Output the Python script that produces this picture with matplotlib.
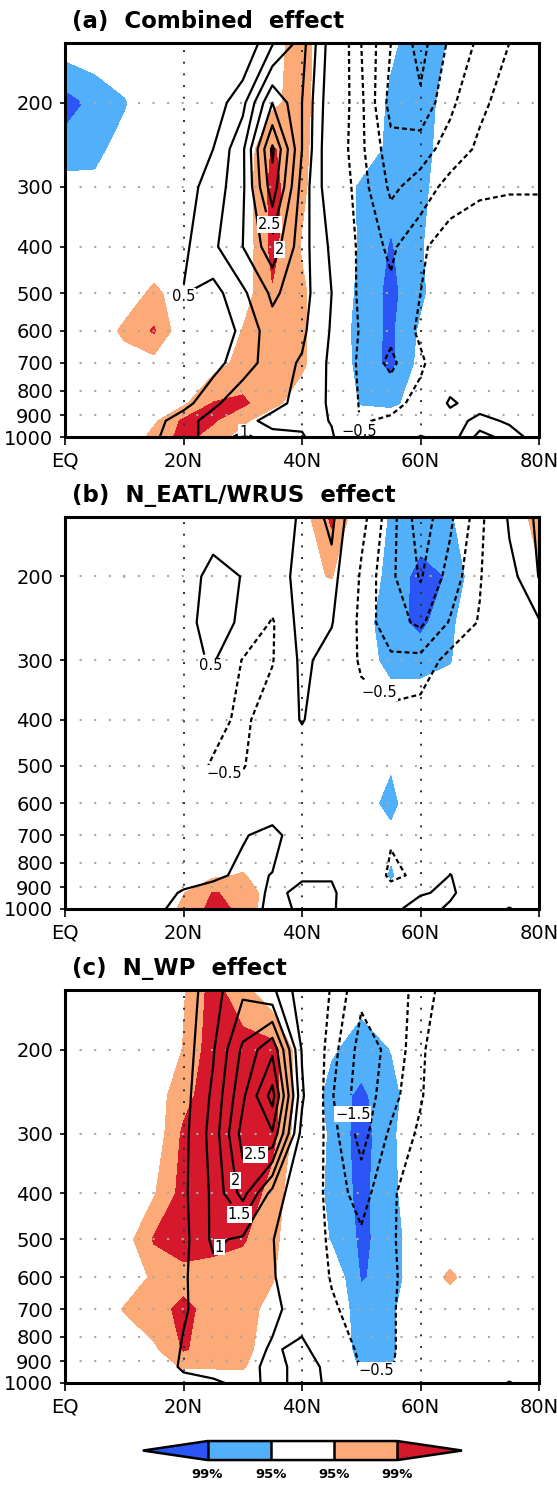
import numpy as np
import matplotlib
matplotlib.use("Agg")
import matplotlib.pyplot as plt
from matplotlib.colors import ListedColormap, BoundaryNorm
from matplotlib.ticker import NullLocator
import matplotlib.cm as cm

# ---------------- data ----------------
lat = [0, 5, 10, 15, 20, 25, 30, 35, 40, 45, 50, 55, 60, 65, 70, 75, 80]
lev = [150, 200, 250, 300, 400, 500, 600, 700, 850, 925, 1000]

# (a) Combined effect : anomaly (contours)
anom_a = [
    [0, 0, 0, 0, 0, 0, 0.0, 0.95, 1.7, 0.2, -1.0, -2.0, -2.7, -1.9, -1.4, -1.0, -0.6],
    [0, 0, 0, 0, 0, 0.2, 0.85, 2.5, 1.5, 0.1, -0.9, -2.2, -2.4, -1.6, -1.1, -0.8, -0.6],
    [0, 0, 0, 0, 0.1, 0.5, 1.4, 3.6, 1.5, 0.0, -0.9, -1.8, -1.7, -1.3, -0.9, -0.7, -0.7],
    [0, 0, 0, 0, 0.3, 0.7, 1.4, 3.3, 1.3, 0.1, -0.8, -1.6, -1.3, -0.8, -0.6, -0.55, -0.55],
    [0, 0, 0, 0.1, 0.4, 0.9, 1.5, 2.3, 1.2, 0.4, -0.7, -1.1, -0.6, -0.2, -0.1, -0.1, -0.1],
    [0, 0, 0, 0.2, 0.52, 0.3, 0.9, 1.6, 1.2, 0.5, -0.7, -0.9, -0.5, -0.1, 0, 0, 0],
    [0, 0, 0.1, 0.2, 0.3, 0.2, 0.6, 1.3, 1.1, 0.45, -0.6, -0.9, -0.4, 0, 0, 0, 0],
    [0, 0, 0.1, 0.2, 0.3, 0.3, 0.8, 1.2, 0.95, 0.4, -0.7, -1.1, -0.6, 0, 0.1, 0, 0],
    [0, 0, 0, 0.2, 0.3, 0.9, 1.3, 1.1, 0.9, 0.4, -0.6, -0.7, -0.3, 0.6, 0.2, 0.1, 0],
    [0, 0, 0, 0.3, 0.8, 1.2, 1.1, 0.9, 0.9, 0.45, -0.55, -0.4, -0.1, 0.2, 0.7, 0.4, 0],
    [0, 0, 0, 0.4, 0.9, 1.1, 0.95, 1.1, 1.05, 0.6, -0.6, -0.2, 0.55, 0.2, 1.2, 0.8, 0.2],
]
# (a) significance (sign = sign of anomaly; |s|>1 -> 95%, |s|>2 -> 99%)
sig_a = [
    [-0.4, -0.3, 0, 0, 0, 0, 0, 0.6, 1.5, 0, 0, -0.8, -1.5, -0.9, 0, 0, 0],
    [-2.5, -1.7, -1.1, 0, 0, 0, 0, 0.8, 1.4, 0, 0, -1.2, -1.4, -0.6, 0, 0, 0],
    [-1.5, -1.3, -0.5, 0, 0, 0, 0.2, 2.1, 1.3, 0, -0.2, -1.3, -1.4, -0.4, 0, 0, 0],
    [-0.6, -0.7, -0.2, 0, 0, 0, 0.3, 2.3, 1.2, 0, -1.2, -1.7, -1.3, -0.2, 0, 0, 0],
    [0, 0, 0, 0, 0, 0, 0.2, 2.3, 0.9, 0, -1.15, -2.1, -1.1, 0, 0, 0, 0],
    [0, 0, 0.2, 1.3, 0.3, 0, 0.5, 1.9, 1.2, 0, -1.3, -2.3, -1.2, 0, 0, 0, 0],
    [0, 0, 1.3, 2.1, 0.2, 0, 1.05, 1.5, 1.2, 0, -1.5, -2.2, -0.8, 0, 0, 0, 0],
    [0, 0, 0.3, 0.6, 0, 0.6, 1.3, 1.3, 1.2, 0, -1.4, -2.3, -0.6, 0, 0, 0, 0],
    [0, 0, 0, 0.2, 0.8, 2.05, 2.2, 1.3, 0.4, 0, -1.1, -1.3, -0.3, 0, 0, 0, 0],
    [0, 0, 0, 0.8, 2.2, 2.1, 1.2, 0.3, 0, 0, 0, 0, 0, 0, 0, 0, 0],
    [0, 0, 0, 1.4, 2.3, 1.6, 0.5, 0, 0, 0, 0, 0, 0, 0, 0, 0, 0],
]

# (b) N_EATL/WRUS effect
anom_b = [
    [0, 0, 0, 0, 0.05, 0.2, 0.2, 0.1, 0.6, 1.15, -0.3, -1.3, -2.3, -1.6, -0.7, 0.6, 1.1],
    [0, 0, 0, 0, 0.2, 0.7, 0.48, 0.2, 0.7, 0.8, -0.6, -1.4, -2.05, -1.3, -0.55, 0.3, 1.02],
    [0, 0, 0, 0, 0.3, 0.75, 0.4, -0.6, 0.9, 0.55, -0.7, -1.3, -1.6, -0.95, -0.45, 0.1, 0.45],
    [0, 0, 0, 0, 0.2, 0.6, -0.55, -0.55, 0.7, 0.15, -0.6, -0.9, -0.85, -0.3, -0.2, 0, 0],
    [0, 0, 0, 0, 0, -0.2, -0.7, 0, 0.55, 0, -0.2, -0.3, -0.2, 0, 0, 0, 0],
    [0, 0, 0, 0, 0, -0.6, -0.55, 0, 0, 0, 0, -0.1, 0, 0, 0, 0, 0],
    [0, 0, 0, 0, 0, -0.2, -0.1, 0.1, 0, 0, 0, -0.1, 0, 0, 0, 0, 0],
    [0, 0, 0, 0, 0, 0.1, 0.45, 0.7, 0.1, 0, 0, -0.45, -0.2, 0, 0, 0, 0],
    [0, 0, 0, 0, 0.1, 0.35, 0.65, 0.48, 0.45, 0.45, 0, -0.6, -0.4, 0.52, 0.1, 0, 0],
    [0, 0, 0, 0.1, 0.6, 0.8, 0.8, 0.4, 0.6, 0.6, 0, -0.3, 0.45, 0.6, 0.1, 0, 0],
    [0, 0, 0, 0.3, 0.8, 0.9, 0.9, 0.3, 0.6, 0.55, 0.2, 0.35, 0.75, 0.4, 0, 0.55, 0],
]
sig_b = [
    [0, 0, 0, 0, 0, 0, 0, 0, 0.5, 2.2, 0, -1.1, -1.4, -1.1, 0, 0.5, 1.3],
    [0, 0, 1.02, 0, 0, 0, 0, 0, 0.8, 1.05, -0.3, -1.3, -2.4, -1.9, 0, 0, 0.9],
    [0, 0, 0, 0, 0, 0, 0, 0, 0, 0, -0.5, -1.6, -2.3, -1.2, 0, 0, 0],
    [0, 0, 0, 0, 0, 0, 0, 0, 0, 0, -0.5, -1.3, -1.3, -1.05, 0, 0, 0],
    [0, 0, 0, 0, 0, 0, 0, 0, 0, 0, 0, -0.2, -0.2, 0, 0, 0, 0],
    [0, 0, 0, 0, 0, 0, 0, 0, 0, 0, 0, -0.9, 0, 0, 0, 0, 0],
    [0, 0, 0, 0, 0, 0, 0, 0, 0, 0, -0.5, -1.3, 0, 0, 0, 0, 0],
    [0, 0, 0, 0, 0, 0, 0, 0, 0, 0, 0, -0.7, 0, 0, 0, 0, 0],
    [0, 0, 0, 0, 0, 0.8, 1.1, 0.3, 0, 0, 0, -1.1, 0, 0, 0, 0, 0],
    [0, 0, 0, 0, 0.95, 2.05, 1.8, 0.3, 0, 0, 0, -0.5, 0, 0, 0, 0, 0],
    [0, 0, 0, 0, 1.3, 2.3, 1.8, 0.2, 0, 0, 0, 0, 0, 0, 0, 0, 0],
]

# (c) N_WP effect
anom_c = [
    [0, 0, 0, 0.1, 0.2, 0.8, 1.4, 1.1, 0.2, -0.55, -1.4, -1.3, -0.8, -0.2, 0, 0, 0],
    [0, 0, 0, 0.1, 0.25, 0.95, 2.1, 2.9, 0.45, -0.8, -1.7, -1.4, -0.6, 0, 0, 0, 0],
    [0, 0, 0, 0.1, 0.3, 1.1, 2.4, 3.7, 0.6, -0.95, -1.8, -1.2, -0.55, 0, 0, 0, 0],
    [0, 0, 0, 0.1, 0.35, 1.2, 2.7, 2.95, 0.3, -0.8, -1.7, -0.9, -0.4, 0, 0, 0, 0],
    [0, 0, 0, 0.1, 0.4, 1.1, 2.2, 0.8, 0.1, -0.75, -1.2, -0.6, -0.1, 0, 0, 0, 0],
    [0, 0, 0, 0.1, 0.35, 1.1, 0.9, 0.52, 0.1, -0.65, -0.9, -0.6, 0, 0, 0, 0, 0],
    [0, 0, 0, 0.1, 0.45, 0.8, 0.8, 0.55, 0.1, -0.55, -0.85, -0.65, 0, 0, 0, 0, 0],
    [0, 0, 0, 0.1, 0.45, 0.75, 0.8, 0.6, 0.3, -0.4, -0.8, -0.6, 0, 0, 0, 0, 0],
    [0, 0, 0, 0.1, 0.55, 0.7, 0.7, 0.45, 0.6, 0.2, -0.7, -0.6, 0, 0, 0, 0, 0],
    [0, 0, 0, 0.1, 0.6, 0.75, 0.7, 0.35, 0.65, 0.4, -0.55, -0.55, 0, 0, 0, 0, 0],
    [0, 0, 0, 0.1, 0.3, 0.4, 0.65, 0.4, 0.6, 0.45, -0.3, -0.3, 0, 0, 0, 0.55, 0],
]
sig_c = [
    [0, 0, 0, 0, 0.9, 2.4, 1.3, 0.3, 0, 0, -0.5, 0, 0, 0, 0, 0, 0],
    [0, 0, 0, 0, 1.05, 2.6, 2.5, 2.4, 0.3, -0.8, -1.6, -0.95, 0, 0, 0, 0, 0],
    [0, 0, 0, 0.5, 1.6, 2.7, 2.8, 2.4, 0.4, -1.6, -2.2, -1.4, 0, 0, 0, 0, 0],
    [0, 0, 0, 0.3, 2.2, 2.8, 2.8, 2.3, 0.2, -1.2, -2.5, -1.2, 0, 0, 0, 0, 0],
    [0, 0, 0.1, 0.9, 2.4, 2.8, 2.7, 1.6, 0, -1.3, -2.3, -1.3, 0, 0, 0, 0, 0],
    [0, 0, 0.5, 2.1, 2.4, 2.3, 2.1, 1.3, 0, -1.05, -2.2, -1.6, 0, 0, 0, 0, 0],
    [0, 0, 0.2, 1.2, 1.7, 1.6, 1.5, 1.1, 0, 0, -2.1, -1.6, 0, 1.3, 0, 0, 0],
    [0, 0, 1.1, 1.7, 2.2, 1.7, 1.5, 0.6, 0, 0, -1.6, -1.2, 0, 0, 0, 0, 0],
    [0, 0, 0, 0.8, 2.1, 1.5, 1.4, 0.3, 0, 0, -1.4, -1.2, 0, 0, 0, 0, 0],
    [0, 0, 0, 0.5, 1.1, 1.1, 1.1, 0.2, 0, 0, -1.1, -1.05, 0, 0, 0, 0, 0],
    [0, 0, 0, 0, 0.3, 0.3, 0.5, 0, 0, 0, -0.2, -0.2, 0, 0, 0, 0, 0],
]

titles = ["(a)  Combined  effect", "(b)  N_EATL/WRUS  effect", "(c)  N_WP  effect"]

# contour labels: (level, lat, pressure)
labels_a = [(0.5, 21.3, 525), (2.5, 34.4, 360), (2.0, 34.9, 400), (1.0, 30, 985), (-0.5, 49.5, 975)]
labels_b = [(0.5, 22.5, 325), (-0.5, 27.3, 550), (-0.5, 51.5, 370)]
labels_c = [(2.5, 32.1, 332), (2.0, 30.0, 375), (1.5, 29.7, 440), (1.0, 27.6, 545),
            (-1.5, 47.4, 274), (-0.5, 52.6, 960)]

contour_levels = [-3.0, -2.5, -2.0, -1.5, -1.0, -0.5, 0.5, 1.0, 1.5, 2.0, 2.5, 3.0, 3.5]
sig_bounds = [-2, -1, 1, 2]
cb_labels = ["99%", "95%", "95%", "99%"]

xticks = [0, 20, 40, 60, 80]
xticklabels = ["EQ", "20N", "40N", "60N", "80N"]
yticks = [200, 300, 400, 500, 600, 700, 800, 900, 1000]

# ---------------- style ----------------
DARK_BLUE = "#2c55f5"
LIGHT_BLUE = "#52affa"
ORANGE = "#fbaa78"
DARK_RED = "#d5182c"

fig = plt.figure(figsize=(5.57, 14.85), dpi=100)

axes_rects = [
    [0.1167, 0.70572, 0.8510, 0.26532],
    [0.1167, 0.38788, 0.8510, 0.26397],
    [0.1167, 0.06869, 0.8510, 0.26465],
]


def fmt(v):
    return f"{v:g}".replace("-", "\u2212")


def draw_panel(rect, anom, sig, title, labels):
    ax = fig.add_axes(rect)
    ax.set_yscale("log")
    ax.set_xlim(0, 80)
    ax.set_ylim(1000, 150)
    A = np.array(anom, dtype=float)
    S = np.array(sig, dtype=float)
    ax.contourf(lat, lev, S, levels=[-99, sig_bounds[0], sig_bounds[1]],
                colors=[DARK_BLUE, LIGHT_BLUE], zorder=1)
    ax.contourf(lat, lev, S, levels=[sig_bounds[2], sig_bounds[3], 99],
                colors=[ORANGE, DARK_RED], zorder=1)
    for p in yticks[:-1]:
        ax.axhline(p, color="#a8a8a8", lw=1.5, ls=(0, (1, 6)), zorder=2)
    for x in xticks[1:-1]:
        ax.axvline(x, color="#303030", lw=1.4, ls=(0, (1, 5)), zorder=2)
    sets = {}
    for lv in contour_levels:
        if A.min() < lv < A.max():
            ls = "solid" if lv > 0 else (0, (2.2, 1.4))
            sets[lv] = ax.contour(lat, lev, A, levels=[lv], colors="k", linewidths=1.6,
                                  linestyles=[ls], zorder=3)
    texts = []
    for lv, x, p in labels:
        cs = sets[lv]
        t = cs.clabel(manual=[(x, p)], inline=True, inline_spacing=2,
                      fontsize=10.5, fmt=fmt)
        texts.extend(list(t))
    for t in texts:
        t.set_rotation(0)
        t.set_bbox(dict(facecolor="white", edgecolor="none", pad=0.6))
        t.set_zorder(5)
    ax.set_xticks(xticks)
    ax.set_xticklabels(xticklabels)
    ax.set_yticks(yticks)
    ax.set_yticklabels([str(v) for v in yticks])
    ax.yaxis.set_minor_locator(NullLocator())
    ax.tick_params(axis="y", direction="out", length=3.6, width=1.2, pad=5, labelsize=14)
    ax.tick_params(axis="x", direction="out", length=5.5, width=1.2, pad=5, labelsize=14)
    for s in ax.spines.values():
        s.set_linewidth(2.2)
        s.set_zorder(6)
    ax.text(0.015, 1.054, title, transform=ax.transAxes, fontsize=16.5,
            fontweight="bold", ha="left", va="center")
    return ax


draw_panel(axes_rects[0], anom_a, sig_a, titles[0], labels_a)
draw_panel(axes_rects[1], anom_b, sig_b, titles[1], labels_b)
draw_panel(axes_rects[2], anom_c, sig_c, titles[2], labels_c)

# colorbar
cax = fig.add_axes([0.2567, 0.0168, 0.5727, 0.0128])
cmap = ListedColormap([LIGHT_BLUE, "white", ORANGE])
cmap.set_under(DARK_BLUE)
cmap.set_over(DARK_RED)
norm = BoundaryNorm(sig_bounds, cmap.N)
cb = fig.colorbar(cm.ScalarMappable(norm=norm, cmap=cmap), cax=cax,
                  orientation="horizontal", extend="both", extendfrac=0.34,
                  ticks=sig_bounds, drawedges=True)
cb.ax.set_xticklabels(cb_labels, fontsize=9.5, fontweight="heavy")
cb.ax.tick_params(length=0, pad=6)
cb.outline.set_linewidth(1.8)
cb.dividers.set_linewidth(1.8)

fig.savefig("out.png", dpi=100)
